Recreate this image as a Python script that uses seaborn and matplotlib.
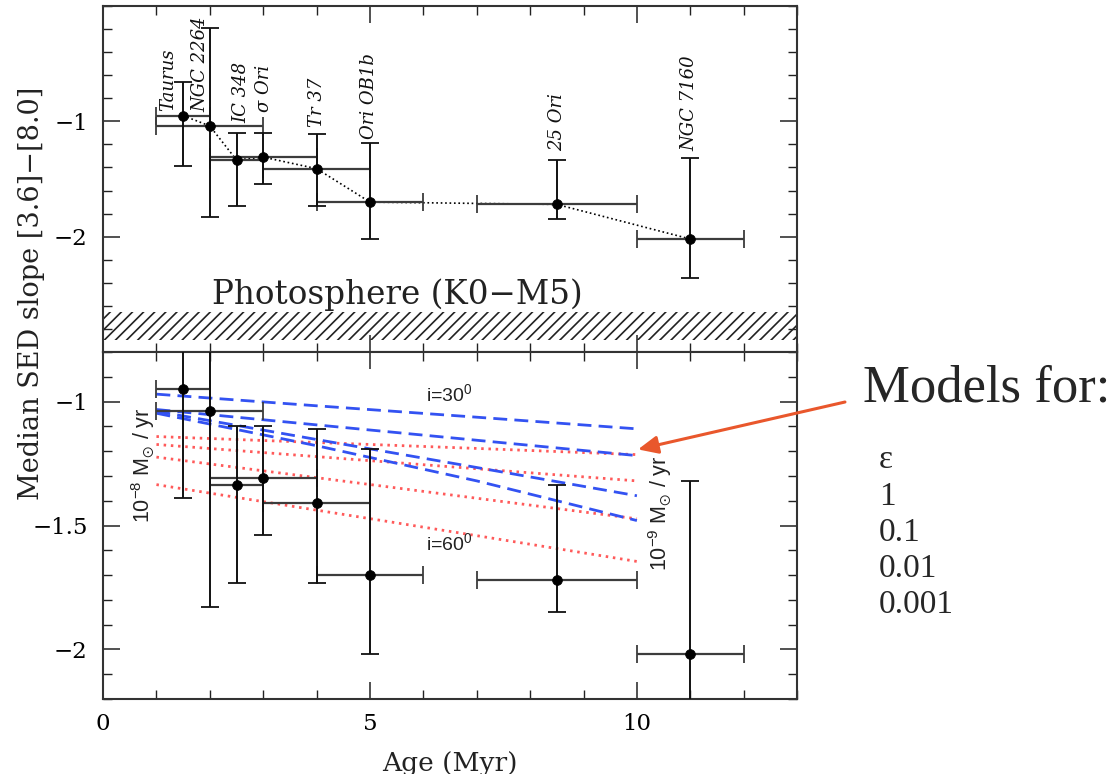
import matplotlib
matplotlib.use("Agg")
import matplotlib.pyplot as plt
from matplotlib.ticker import MultipleLocator, FixedLocator, FixedFormatter
import pandas as pd
import seaborn as sns

# ---------------- data ----------------
clusters = ['Taurus', 'NGC 2264', 'IC 348', 'σ Ori', 'Tr 37', 'Ori OB1b', '25 Ori', 'NGC 7160']
age = [1.5, 2.0, 2.5, 3.0, 4.0, 5.0, 8.5, 11.0]
age_lo = [1.0, 1.0, 2.0, 2.0, 3.0, 4.0, 7.0, 10.0]
age_hi = [2.0, 3.0, 3.0, 4.0, 5.0, 6.0, 10.0, 12.0]
slope = [-0.95, -1.04, -1.335, -1.31, -1.41, -1.70, -1.72, -2.02]
slope_lo = [-1.39, -1.83, -1.73, -1.54, -1.73, -2.02, -1.85, -2.36]
slope_hi = [-0.66, -0.19, -1.10, -1.10, -1.11, -1.19, -1.335, -1.32]
label_x = [1.21, 1.83, 2.59, 3.01, 4.01, 4.99, 8.5, 10.99]
label_y = [-0.91, -0.915, -1.015, -0.915, -1.05, -1.157, -1.256, -1.256]

phot_lo, phot_hi = -2.90, -2.65

model_age = [1, 4, 7, 10]
blue_1 = [-0.970, -1.017, -1.063, -1.110]
blue_2 = [-1.032, -1.094, -1.156, -1.218]
blue_3 = [-1.039, -1.153, -1.266, -1.380]
blue_4 = [-1.047, -1.178, -1.320, -1.480]
red_1 = [-1.141, -1.165, -1.189, -1.214]
red_2 = [-1.173, -1.222, -1.271, -1.320]
red_3 = [-1.224, -1.307, -1.390, -1.473]
red_4 = [-1.335, -1.438, -1.541, -1.645]

eps_lines = ['ε', '1', '0.1', '0.01', '0.001']

x_ticks = [0, 5, 10]
x_ticklabels = ['0', '5', '10']
top_yticks = [-2, -1]
top_yticklabels = ['−2', '−1']
bot_yticks = [-2, -1.5, -1]
bot_yticklabels = ['−2', '−1.5', '−1']

# ---------------- style ----------------
sns.set_style("ticks")
plt.rcParams['font.family'] = ['DejaVu Serif']
plt.rcParams['mathtext.default'] = 'regular'
plt.rcParams['hatch.linewidth'] = 1.2

fig = plt.figure(figsize=(11.14, 7.74), dpi=100)
ax_top = fig.add_axes([0.0925, 0.5452, 0.623, 0.4470])
ax_bot = fig.add_axes([0.0925, 0.0969, 0.623, 0.4483])

df = pd.DataFrame({'age': age, 'slope': slope})
xerr = [[a - l for a, l in zip(age, age_lo)], [h - a for a, h in zip(age, age_hi)]]
yerr = [[s - l for s, l in zip(slope, slope_lo)], [h - s for s, h in zip(slope, slope_hi)]]

for ax in (ax_top, ax_bot):
    ax.errorbar(age, slope, xerr=xerr, fmt='none', ecolor='#3c3c3c', elinewidth=1.6,
                capsize=6.5, capthick=1.3, zorder=3)
    ax.errorbar(age, slope, yerr=yerr, fmt='none', ecolor='#111111', elinewidth=1.4,
                capsize=6.5, capthick=1.3, zorder=3)
    sns.scatterplot(data=df, x='age', y='slope', ax=ax, color='black', s=50,
                    edgecolor='black', linewidth=0.5, zorder=5, legend=False)

# ---- top panel ----
sns.lineplot(data=df, x='age', y='slope', ax=ax_top, color='black', linestyle=':',
             linewidth=1.2, sort=False, zorder=2)
ax_top.axhspan(phot_lo, phot_hi, facecolor='none', edgecolor='#222222', hatch='///',
               linewidth=0, zorder=1)
ax_top.text(5.52, -2.58, 'Photosphere (K0−M5)', ha='center', va='baseline', fontsize=23.5,
            color='#222222')
for name, lx, ly in zip(clusters, label_x, label_y):
    ax_top.text(lx, ly, name, rotation=90, ha='center', va='bottom', fontsize=13,
                style='italic', color='#111111')

# ---- bottom panel: models ----
blue_style = dict(color='#3352f2', linewidth=2.0, linestyle=(0, (5, 2.6)))
red_style = dict(color='#ff5a5a', linewidth=2.0, linestyle=(0, (0.9, 1.7)))
for ys in (red_1, red_2, red_3, red_4):
    sns.lineplot(x=model_age, y=ys, ax=ax_bot, zorder=2, **red_style)
for ys in (blue_1, blue_2, blue_3, blue_4):
    sns.lineplot(x=model_age, y=ys, ax=ax_bot, zorder=2, **blue_style)

ax_bot.text(6.49, -1.0, 'i=30$^0$', ha='center', va='baseline', fontsize=14,
            family='Liberation Sans', color='#222222')
ax_bot.text(6.49, -1.60, 'i=60$^0$', ha='center', va='baseline', fontsize=14,
            family='Liberation Sans', color='#222222')
ax_bot.text(0.75, -1.258, '10$^{-8}$ M$_{\\odot}$ / yr', rotation=90, ha='center',
            va='center', fontsize=15.5, family='Liberation Sans', color='#222222')
ax_bot.text(10.44, -1.45, '10$^{-9}$ M$_{\\odot}$ / yr', rotation=90, ha='center',
            va='center', fontsize=15.5, family='Liberation Sans', color='#222222')

# ---- axes formatting (after seaborn calls so labels stay cleared) ----
for ax in (ax_top, ax_bot):
    ax.set_xlim(0, 13)
    ax.xaxis.set_major_locator(FixedLocator(x_ticks))
    ax.xaxis.set_minor_locator(MultipleLocator(1))
    ax.tick_params(axis='both', which='both', direction='in', top=True, right=True,
                   colors='#222222', labelcolor='black', labelsize=16.5)
    ax.tick_params(axis='both', which='major', length=12, width=1.1)
    ax.tick_params(axis='both', which='minor', length=6.5, width=1.0)
    ax.tick_params(axis='y', pad=11)
    ax.tick_params(axis='x', pad=10)
    for sp in ax.spines.values():
        sp.set_linewidth(1.5)
        sp.set_color('#333333')
    ax.set_xlabel('')
    ax.set_ylabel('')

ax_top.set_ylim(-3, 0)
ax_top.yaxis.set_major_locator(FixedLocator(top_yticks))
ax_top.yaxis.set_major_formatter(FixedFormatter(top_yticklabels))
ax_top.yaxis.set_minor_locator(MultipleLocator(0.2))
ax_top.tick_params(axis='x', labelbottom=False)

ax_bot.set_ylim(-2.2, -0.8)
ax_bot.yaxis.set_major_locator(FixedLocator(bot_yticks))
ax_bot.yaxis.set_major_formatter(FixedFormatter(bot_yticklabels))
ax_bot.yaxis.set_minor_locator(MultipleLocator(0.1))
ax_bot.xaxis.set_major_formatter(FixedFormatter(x_ticklabels))

# arrow from the annotation text to the model curves
ax_bot.annotate('', xy=(10.02, -1.193), xycoords='data',
                xytext=(0.7585, 0.4806), textcoords='figure fraction',
                arrowprops=dict(arrowstyle='-|>,head_length=0.6,head_width=0.27',
                                mutation_scale=20, color='#e9572c', lw=2.2,
                                shrinkA=0, shrinkB=0),
                annotation_clip=False)

# ---- axis labels & side text ----
fig.text(0.0285, 0.6214, 'Median SED slope [3.6]−[8.0]', rotation=90, ha='center',
         va='center', fontsize=19.5, color='#222222')
fig.text(0.404, 0.0300, 'Age (Myr)', ha='center', va='top', fontsize=19, color='#222222')

fig.text(0.7747, 0.481, 'Models for:', family='Liberation Serif', fontsize=38,
         va='baseline', ha='left')
for i, t in enumerate(eps_lines):
    fig.text(0.789, 0.395 - i * 0.04685, t, family='Liberation Serif', fontsize=24,
             va='baseline', ha='left')

fig.savefig('out.png', dpi=100)
